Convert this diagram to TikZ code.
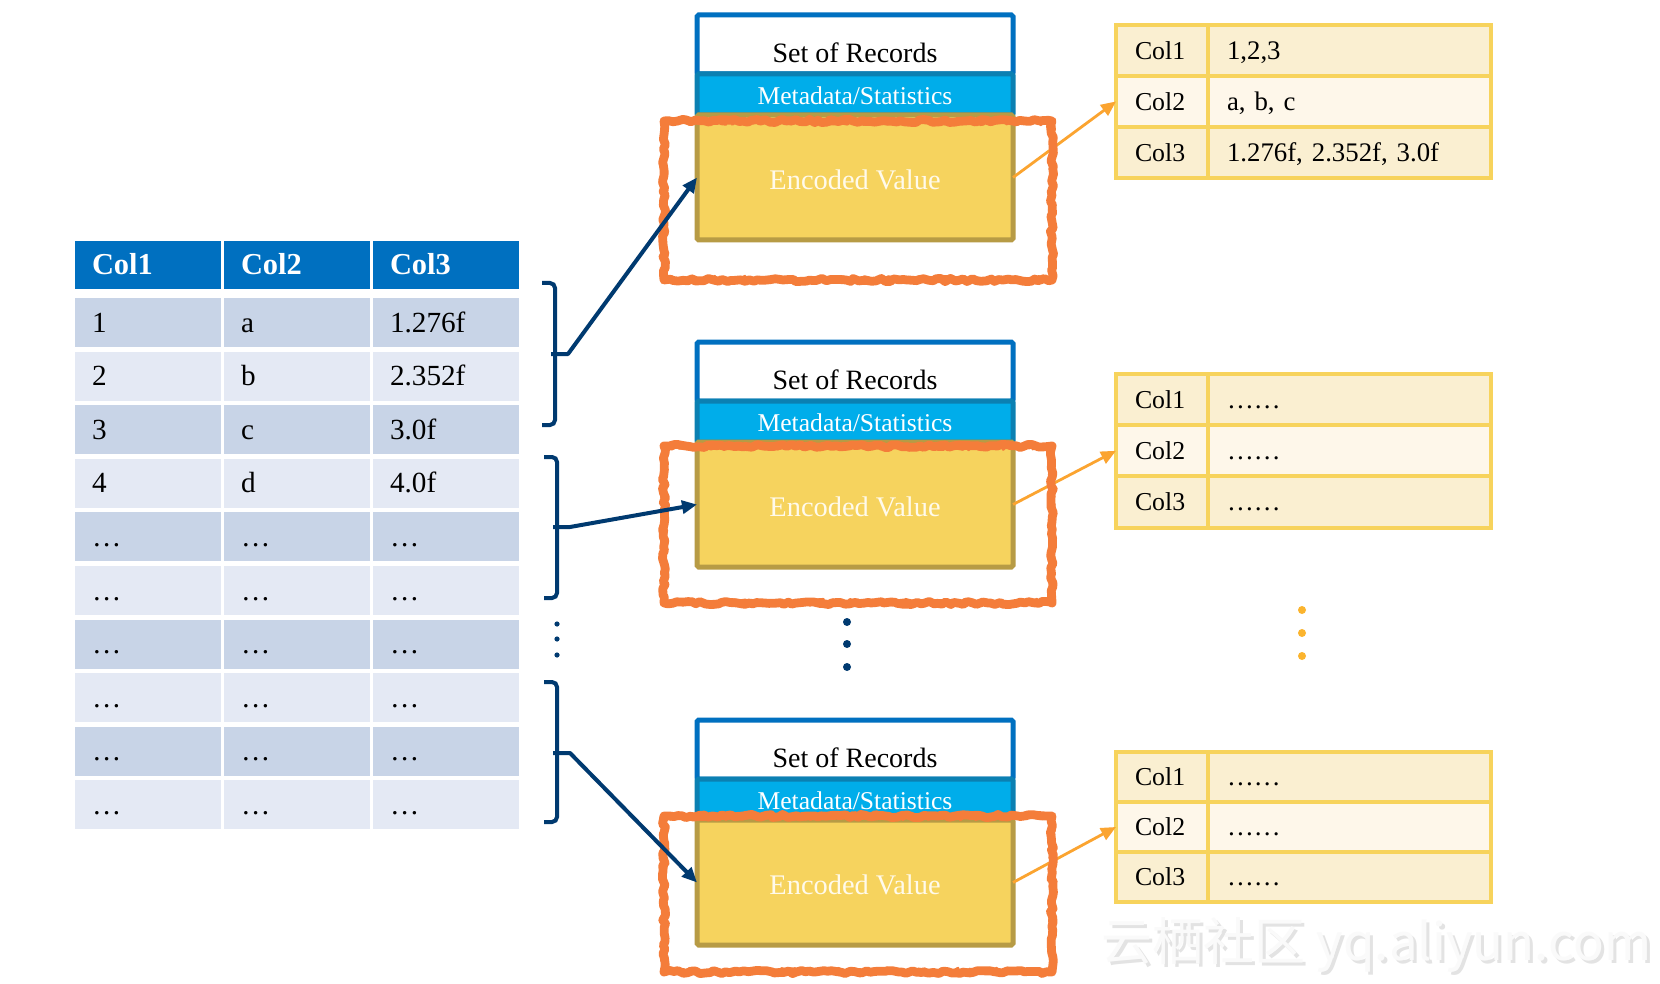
\documentclass[tikz,border=0pt]{standalone}
\usepackage{fontspec}
\setmainfont{Liberation Serif}
\newfontfamily\cjkfont{Noto Sans CJK SC}
\usetikzlibrary{decorations.pathmorphing,arrows.meta}
\definecolor{hdrblue}{HTML}{0070C0}
\definecolor{rowdark}{HTML}{C8D4E7}
\definecolor{rowlight}{HTML}{E4E9F4}
\definecolor{navy}{HTML}{003A70}
\definecolor{metafill}{HTML}{00ADEA}
\definecolor{metaedge}{HTML}{0B80B2}
\definecolor{encfill}{HTML}{F6D35E}
\definecolor{encedge}{HTML}{B79B45}
\definecolor{enctext}{HTML}{FFFAEB}
\definecolor{sketchor}{HTML}{F47D3A}
\definecolor{oarrow}{HTML}{FBA430}
\definecolor{tborder}{HTML}{F7D35C}
\definecolor{tfillA}{HTML}{FAEFD1}
\definecolor{tfillB}{HTML}{FEF7EA}
\definecolor{odot}{HTML}{FBB42E}
\tikzset{
  lcell/.style={rectangle, anchor=north west, inner xsep=8.5pt, inner ysep=0pt, outer sep=0pt,
    minimum width=73pt, minimum height=24.5pt, text width=56pt, align=left,
    text height=9.6pt, text depth=0pt, font=\fontsize{14.6pt}{16pt}\selectfont},
  lhead/.style={lcell, fill=hdrblue, text=white, minimum height=24pt,
    text height=10pt, font=\bfseries\fontsize{15.2pt}{16pt}\selectfont},
  rcellA/.style={rectangle, anchor=north west, draw=tborder, line width=2pt, outer sep=0pt,
    inner xsep=9.5pt, inner ysep=0pt, minimum width=46pt, text width=27pt, align=left,
    text height=8.6pt, text depth=0pt, font=\fontsize{12.9pt}{14pt}\selectfont},
  rcellB/.style={rcellA, minimum width=141.5pt, text width=122.5pt,
    font=\fontsize{13.4pt}{14pt}\selectfont},
  recpart/.style={rectangle, anchor=north west, line width=2.5pt, inner sep=0pt, outer sep=0pt,
    minimum width=158pt, rounded corners=0.8pt},
  reclabel/.style={inner sep=0pt, text height=9.3pt, text depth=0pt,
    font=\fontsize{14pt}{15pt}\selectfont},
  sketchline/.style={draw=sketchor, line width=4.4pt, line join=round,
    decorate, decoration={random steps, segment length=2.2pt, amplitude=0.8pt}},
  sketchthin/.style={draw=sketchor, line width=1.4pt, line join=round,
    decorate, decoration={random steps, segment length=1.6pt, amplitude=1.4pt}},
  bracketline/.style={draw=navy, line width=2pt, rounded corners=2.5pt},
  navyarrow/.style={draw=navy, line width=2pt, line join=round,
    -{Triangle[length=7.5pt, width=6.5pt]}},
  orarrow/.style={draw=oarrow, line width=1.4pt,
    -{Triangle[length=7.5pt, width=6.5pt]}},
  navydot/.style={circle, fill=navy, inner sep=0pt, minimum size=2.6pt},
  bigdot/.style={circle, fill=navy, inner sep=0pt, minimum size=4pt},
  odotst/.style={circle, fill=odot, inner sep=0pt, minimum size=4pt},
}
\newcommand{\recblock}[2]{%
  \node[recpart, fill=white, draw=hdrblue, minimum height=29.5pt] (rec#1) at (697,#2) {};
  \node[recpart, fill=metafill, draw=metaedge, minimum height=20.5pt] (meta#1) at (697,{#2+59}) {};
  \node[recpart, fill=encfill, draw=encedge, minimum height=62.5pt] (enc#1) at (697,{#2+100}) {};
  \node[reclabel] (lrec#1) at (855,{#2+38}) {Set of Records};
  \node[reclabel, text=white, text height=8.6pt, font=\fontsize{12.8pt}{14pt}\selectfont] (lmeta#1) at (855,{#2+81}) {Metadata/Statistics};
  \node[reclabel, text=enctext, font=\fontsize{14.2pt}{15pt}\selectfont] (lenc#1) at (855,{#2+165}) {Encoded Value};
}
\newcommand{\righttab}[6]{%
  \node[rcellA, fill=tfillA, minimum height=#3] (t#1r1a) at (1116,#2) {Col1};
  \node[rcellB, fill=tfillA, minimum height=#3] (t#1r1b) at (1208,#2) {#4};
  \node[rcellA, fill=tfillB, minimum height=#3] (t#1r2a) at (t#1r1a.south west) {Col2};
  \node[rcellB, fill=tfillB, minimum height=#3] (t#1r2b) at (t#1r1b.south west) {#5};
  \node[rcellA, fill=tfillA, minimum height=#3] (t#1r3a) at (t#1r2a.south west) {Col3};
  \node[rcellB, fill=tfillA, minimum height=#3] (t#1r3b) at (t#1r2b.south west) {#6};
}
\begin{document}
\begin{tikzpicture}[x=0.5pt, y=-0.5pt]
\path[use as bounding box, fill=white] (0,0) rectangle (1660,984);

% ---------- left table ----------
\node[lhead] (h1) at (75,241) {Col1};
\node[lhead] (h2) at (224,241) {Col2};
\node[lhead] (h3) at (373,241) {Col3};
\foreach \i/\rc/\ta/\tb/\tc in {1/rowdark/1/a/1.276f, 2/rowlight/2/b/2.352f,
    3/rowdark/3/c/3.0f, 4/rowlight/4/d/4.0f, 5/rowdark/…/…/…, 6/rowlight/…/…/…,
    7/rowdark/…/…/…, 8/rowlight/…/…/…, 9/rowdark/…/…/…, 10/rowlight/…/…/…}{
  \node[lcell, fill=\rc] (r\i c1) at (75,{298+53.6*(\i-1)}) {\ta};
  \node[lcell, fill=\rc] (r\i c2) at (224,{298+53.6*(\i-1)}) {\tb};
  \node[lcell, fill=\rc] (r\i c3) at (373,{298+53.6*(\i-1)}) {\tc};
}

% ---------- brackets ----------
\draw[bracketline] (542,283) -- (555,283) -- (555,425) -- (542,425);
\draw[bracketline] (544,457) -- (557,457) -- (557,598) -- (544,598);
\draw[bracketline] (544,682) -- (557,682) -- (557,822) -- (544,822);
\coordinate (b1nub) at (551,354);  \coordinate (b1knee) at (568,354);
\coordinate (b2nub) at (553,527);  \coordinate (b2knee) at (570,527);
\coordinate (b3nub) at (553,753);  \coordinate (b3knee) at (570,753);
\node[navydot] (ld1) at (557,624) {};
\node[navydot] (ld2) at (557,639) {};
\node[navydot] (ld3) at (557,655) {};

% ---------- record blocks ----------
\recblock{1}{15}
\recblock{2}{342}
\recblock{3}{720}
\node[bigdot] (md1) at (847,622) {};
\node[bigdot] (md2) at (847,644) {};
\node[bigdot] (md3) at (847,667) {};

% ---------- right tables ----------
\righttab{1}{25}{25.5pt}{1,2,3}{a, b, c}{1.276f, 2.352f, 3.0f}
\righttab{2}{374}{25.6pt}{……}{……}{……}
\righttab{3}{752}{25pt}{……}{……}{……}
\node[odotst] (od1) at (1302,610) {};
\node[odotst] (od2) at (1302,633) {};
\node[odotst] (od3) at (1302,656) {};

% ---------- orange connectors ----------
\draw[orarrow] (enc1.east) -- (t1r2a.west);
\draw[orarrow] (enc2.east) -- (t2r2a.west);
\draw[orarrow] (enc3.east) -- (t3r2a.west);

% ---------- sketchy highlight frames ----------
\pgfmathsetseed{7}
\foreach \ta/\tb in {121/280, 446/603, 816/972}{
  \draw[sketchline] (664,\ta) -- (1052,\ta) -- (1052,\tb) -- (664,\tb) -- cycle;
  \draw[sketchthin] (664,{\ta+1}) -- (1052,{\ta+1}) -- (1052,{\tb-1}) -- (664,{\tb-1}) -- cycle;
}

% ---------- navy connectors ----------
\draw[navyarrow] (b1nub) -- (b1knee) -- (enc1.west);
\draw[navyarrow] (b2nub) -- (b2knee) -- (enc2.west);
\draw[navyarrow] (b3nub) -- (b3knee) -- (enc3.west);

% ---------- watermark ----------
\node[anchor=west, inner sep=0pt, text=black!11, font=\cjkfont\fontsize{25.5pt}{26pt}\selectfont] (wm) at (1104,948) {云栖社区 yq.aliyun.com};
\node[anchor=west, inner sep=0pt, text=black!2, font=\cjkfont\fontsize{25.5pt}{26pt}\selectfont] (wmtop) at (1101,945) {云栖社区 yq.aliyun.com};
\end{tikzpicture}
\end{document}
